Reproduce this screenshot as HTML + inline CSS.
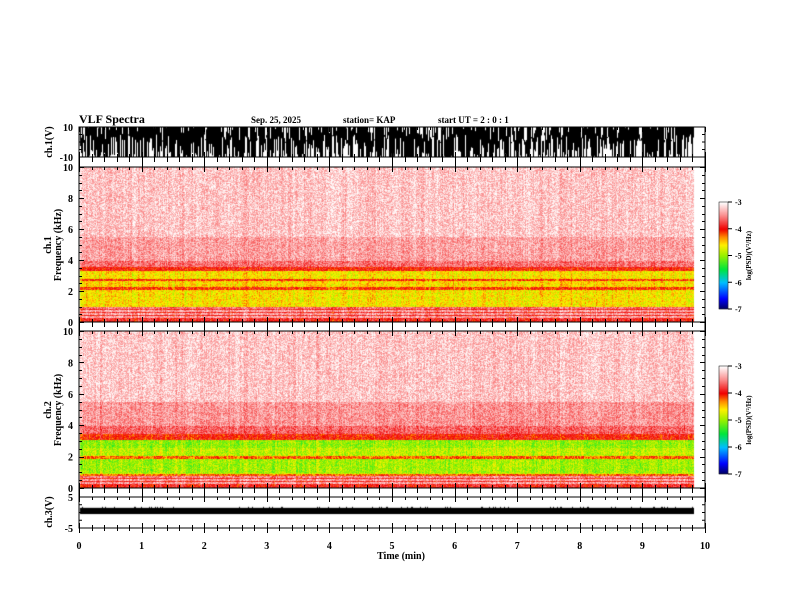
<!DOCTYPE html>
<html><head><meta charset="utf-8"><style>
html,body{margin:0;padding:0;background:#fff;}
#wrap{position:relative;width:792px;height:612px;overflow:hidden;font-family:"Liberation Serif",serif;}
canvas,svg{position:absolute;left:0;top:0;}
</style></head><body>
<div id="wrap">
<canvas id="cv" width="792" height="612"></canvas>
<svg id="sv" width="792" height="612" font-family="Liberation Serif, serif" font-weight="bold"></svg>
</div>
<script>
// ---- data ----
const timeTicks = [0,1,2,3,4,5,6,7,8,9,10];
const freqTicks = [0,2,4,6,8,10];
const cbTicks = [-3,-4,-5,-6,-7];
const dataEndMin = 9.83;
const ch1BandFreq = [0,0.3,0.4,0.5,0.6,0.7,0.8,0.9,1.0,2.1,2.3,2.7,2.8,3.3,3.6,4.0,5.5,10.1];
const ch1BandLvl  = [-3.9,-3.4,-3.9,-3.4,-3.9,-3.4,-3.9,-3.6,-4.6,-4.1,-4.55,-4.1,-4.6,-4.0,-3.6,-3.4,-3.25,-3.15];
const ch2BandFreq = [0,0.3,0.4,0.5,0.6,0.7,0.8,0.9,1.0,1.9,2.1,2.6,3.1,3.5,4.0,5.5,10.1];
const ch2BandLvl  = [-3.9,-3.4,-3.9,-3.4,-3.9,-3.5,-4.2,-4.8,-4.95,-4.2,-4.85,-5.0,-4.0,-3.65,-3.45,-3.25,-3.15];
const ch3Center = [0.5];
const ch3HalfWidth = [1.0];

// ---- layout ----
const X0=79, X1=705;
const P1={t:127,b:157}, S1={t:167,b:322}, S2={t:331,b:488}, P3={t:497,b:528};
const xs = m => X0 + (X1-X0)*m/10;
const yf = (p,f) => p.b - (p.b-p.t)*f/10;

function hash(a,b){let h=(a*374761393+b*668265263)^0x5bd1e995;h=(h^(h>>>13))*1274126177;h=h^(h>>>16);return ((h>>>0)%10000)/10000;}
const stops=[[-7,[0,0,90]],[-6.6,[0,0,255]],[-6,[0,190,255]],[-5.5,[0,230,60]],[-5,[150,240,0]],[-4.6,[255,240,0]],[-4.3,[255,140,0]],[-4,[240,0,0]],[-3.5,[250,140,140]],[-3,[255,255,255]]];
function cmap(v){if(v<=-7)return stops[0][1];if(v>=-3)return stops[stops.length-1][1];
 for(let i=0;i<stops.length-1;i++){const [a,ca]=stops[i],[b,cb]=stops[i+1];if(v<=b){const t=(v-a)/(b-a);return [ca[0]+(cb[0]-ca[0])*t,ca[1]+(cb[1]-ca[1])*t,ca[2]+(cb[2]-ca[2])*t];}}}
function lvl(fr,lv,f){for(let i=fr.length-1;i>=0;i--)if(f>=fr[i])return lv[i];return lv[0];}

const cv=document.getElementById('cv'),ctx=cv.getContext('2d');
const img=ctx.createImageData(792,612);
function put(x,y,c){const k=(y*792+x)*4;img.data[k]=c[0];img.data[k+1]=c[1];img.data[k+2]=c[2];img.data[k+3]=255;}
for(let i=0;i<792*612;i++){img.data[i*4]=255;img.data[i*4+1]=255;img.data[i*4+2]=255;img.data[i*4+3]=255;}
const xe=Math.round(xs(dataEndMin));
function spec(P,fr,lv,seed){
 for(let x=X0+1;x<xe;x++){const col=(hash(x,seed)-0.5)*0.25+(hash(x>>2,seed+7)-0.5)*0.15;
  for(let y=P.t;y<P.b;y++){const f=(P.b-y)/(P.b-P.t)*10;
   let v=lvl(fr,lv,f)+col*(f>3.5?-0.6:1)+(hash(x*3+1,y*7+seed)-0.5)*0.5;
   put(x,y,cmap(v));}}
}
spec(S1,ch1BandFreq,ch1BandLvl,11);
spec(S2,ch2BandFreq,ch2BandLvl,29);
[[202,309],[366,474]].forEach(([t,b])=>{for(let y=t;y<b;y++){const v=-3-4*(y-t)/(b-t);const c=cmap(v);for(let x=719;x<728;x++)put(x,y,c);}});
ctx.putImageData(img,0,0);
ctx.fillStyle='#000';
const y1=v=>P1.t+(P1.b-P1.t)*(10-v)/20;
for(let x=X0+1;x<xe;x++){const gt=hash(x,101),gb=hash(x,202);
 const top=10-(gt>0.75?(gt-0.75)*40:0), bot=-10+(gb>0.5?(gb-0.5)*30:0);
 ctx.fillRect(x,y1(Math.min(10,top)),1,Math.max(1,y1(Math.max(-10,bot))-y1(Math.min(10,top))));}
const y3=v=>P3.t+(P3.b-P3.t)*(5-v)/10;
const c3=ch3Center[0],hw=ch3HalfWidth[0];
ctx.fillRect(X0+1,y3(c3+hw),xe-X0-1,y3(c3-hw)-y3(c3+hw));
for(let x=X0+1;x<xe;x++){if(hash(x,303)>0.85)ctx.fillRect(x,y3(c3+hw)-1,1,1);}

// ---- SVG axes ----
const NS='http://www.w3.org/2000/svg',sv=document.getElementById('sv');
function el(tag,attrs,txt){const e=document.createElementNS(NS,tag);for(const k in attrs)e.setAttribute(k,attrs[k]);if(txt!==undefined)e.textContent=txt;sv.appendChild(e);return e;}
function rect(t,b,name){const r=el('rect',{x:X0,y:t,width:X1-X0,height:b-t,fill:'none',stroke:'#000','stroke-width':1});
 
 }
rect(P1.t,P1.b,'ch1-waveform-panel');rect(P1.b,S1.t,'tick-strip-1');rect(S1.t,S1.b,'ch1-spectrogram-panel');
rect(S1.b,S2.t,'tick-strip-2');rect(S2.t,S2.b,'ch2-spectrogram-panel');rect(S2.b,P3.t,'tick-strip-3');rect(P3.t,P3.b,'ch3-waveform-panel');
function ln(x1,y1_,x2,y2){el('line',{x1:x1,y1:y1_,x2:x2,y2:y2,stroke:'#000','stroke-width':1});}
for(let m=0;m<=10.001;m+=0.2){const x=Math.round(xs(m))+0.5,maj=Math.abs(m-Math.round(m))<0.01;
 [[P1.b,S1.t],[S1.b,S2.t],[S2.b,P3.t]].forEach(([t,b])=>{ln(x,t,x,maj?b:t+5);});
 [P1,S1,S2,P3].forEach(P=>{ln(x,P.t,x,P.t+(maj?5:3));ln(x,P.b,x,P.b-(maj?5:3));});
 ln(x,P3.b,x,P3.b+(maj?5:3));}
timeTicks.forEach(m=>{const t=el('text',{x:xs(m),y:549,'font-size':10,'text-anchor':'middle'},m);
 
 });
[S1,S2].forEach((P,i)=>{for(let f=0;f<=10;f+=0.5){const y=Math.round(yf(P,f))+0.5,maj=f%2===0;ln(X0,y,X0+(maj?5:3),y);ln(X1,y,X1-(maj?5:3),y);}
 freqTicks.forEach(f=>{const t=el('text',{x:73,y:yf(P,f)+4,'font-size':10,'text-anchor':'end'},f);
 
 });});
[[P1,'10','-10'],[P3,'5','-5']].forEach(([P,a,b])=>{
 el('text',{x:73,y:P.t+4,'font-size':10,'text-anchor':'end'},a);el('text',{x:73,y:P.b+4,'font-size':10,'text-anchor':'end'},b);
 for(let k=1;k<4;k++){const y=P.t+(P.b-P.t)*k/4;ln(X0,y,X0+3,y);ln(X1,y,X1-3,y);}});
el('text',{x:401,y:559,'font-size':10,'text-anchor':'middle'},'Time (min)');
function rot(x,y,txt,name,fs){const t=el('text',{x:x,y:y,'font-size':fs||10,'text-anchor':'middle',transform:`rotate(-90 ${x} ${y})`},txt);
 
 }
rot(52,142,'ch.1(V)','ch1-y-title');rot(52,512,'ch.3(V)','ch3-y-title');
rot(51,245,'ch.1','ch1-spec-label');rot(61,245,'Frequency (kHz)','ch1-freq-title');
rot(51,410,'ch.2','ch2-spec-label');rot(61,410,'Frequency (kHz)','ch2-freq-title');
[[202,309],[366,474]].forEach(([t,b],i)=>{el('rect',{x:719,y:t,width:9,height:b-t,fill:'none',stroke:'#000','stroke-width':0.5});
 cbTicks.forEach(v=>{const y=t+(b-t)*(-3-v)/4;ln(728,y,732,y);el('text',{x:735,y:y+3,'font-size':8},v);});
 rot(751,(t+b)/2,'log(PSD)(V²/Hz)','colorbar-label-'+(i+1),7);});
el('text',{x:79,y:123,'font-size':12},'VLF Spectra');
el('text',{x:251,y:123,'font-size':9},'Sep. 25, 2025');
el('text',{x:343,y:123,'font-size':9},'station= KAP');
el('text',{x:438,y:123,'font-size':9},'start UT =  2 : 0 : 1');
</script>
</body></html>
